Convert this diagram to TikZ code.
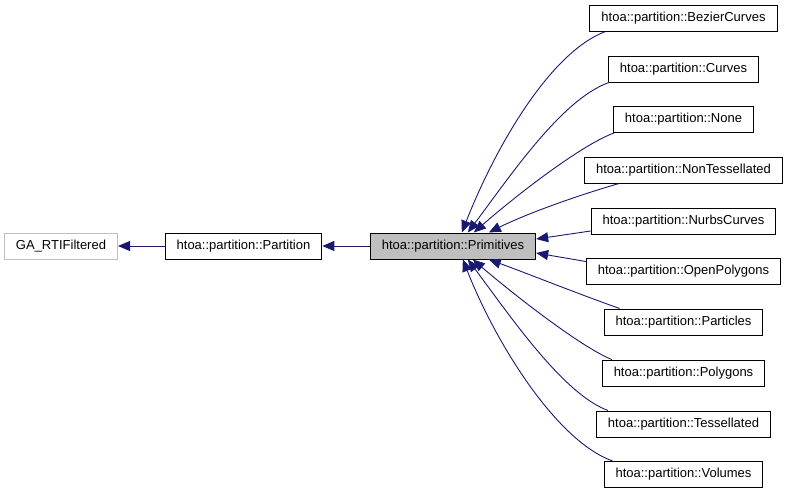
\documentclass[tikz,border=0pt]{standalone}
\usepackage{fontspec}
\setmainfont{Liberation Sans}
\usetikzlibrary{arrows.meta}
\definecolor{edgeblue}{HTML}{191970}
\definecolor{boxgray}{HTML}{BFBFBF}
\tikzset{
  cls/.style={draw=black, line width=1pt, fill=white, minimum height=26pt, inner xsep=11.5pt, inner ysep=0pt, font=\fontsize{13pt}{15pt}\selectfont, text=black},
  extcls/.style={cls, draw=boxgray},
  curcls/.style={cls, fill=boxgray},
  inh/.style={draw=edgeblue, line width=0.9pt, -{Triangle[length=12pt,width=10pt]}, color=edgeblue}
}
\begin{document}
\begin{tikzpicture}[x=1pt,y=1pt]
\useasboundingbox (0,0) rectangle (789,-493);
\node[extcls] (ga) at (61,-246) {GA\_RTIFiltered};
\node[cls] (part) at (243.5,-246) {htoa::partition::Partition};
\node[curcls] (prim) at (453,-246) {htoa::partition::Primitives};

\node[cls] (bz) at (683.5,-18) {htoa::partition::BezierCurves};
\node[cls] (cv) at (683.5,-69) {htoa::partition::Curves};
\node[cls] (nn) at (683.5,-119.5) {htoa::partition::None};
\node[cls] (nt) at (683.5,-170) {htoa::partition::NonTessellated};
\node[cls] (nc) at (683.5,-221) {htoa::partition::NurbsCurves};
\node[cls] (op) at (683.5,-271.5) {htoa::partition::OpenPolygons};
\node[cls] (pa) at (683.5,-322) {htoa::partition::Particles};
\node[cls] (pg) at (683.5,-373) {htoa::partition::Polygons};
\node[cls] (ts) at (683.5,-424) {htoa::partition::Tessellated};
\node[cls] (vo) at (683.5,-474.5) {htoa::partition::Volumes};

\draw[inh] (part) -- (ga);
\draw[inh] (prim) -- (part);

\draw[inh] ([xshift=16pt]bz.south west) .. controls +(-56,-21) and +(33,84) .. ([xshift=92pt]prim.north west);
\draw[inh] ([xshift=1pt]cv.south west) .. controls +(-47,-16.5) and +(42,56) .. ([xshift=98pt]prim.north west);
\draw[inh] ([xshift=1pt]nn.south west) .. controls +(-33,-12) and +(41,36) .. ([xshift=104pt]prim.north west);
\draw[inh] ([xshift=35pt]nt.south west) .. controls +(-45,-13) and +(36,18) .. ([xshift=119pt]prim.north west);
\draw[inh] ([yshift=-10pt]nc.west) -- ([yshift=7pt]prim.east);
\draw[inh] ([yshift=10pt]op.west) -- ([yshift=-7pt]prim.east);
\draw[inh] ([xshift=16pt]pa.north west) .. controls +(-45,16) and +(36,-13) .. ([xshift=119pt]prim.south west);
\draw[inh] ([xshift=10pt]pg.north west) .. controls +(-30,12) and +(42,-36) .. ([xshift=103pt]prim.south west);
\draw[inh] ([xshift=12pt]ts.north west) .. controls +(-45,16.5) and +(42,-56) .. ([xshift=98pt]prim.south west);
\draw[inh] ([xshift=9pt]vo.north west) .. controls +(-56,20) and +(33,-84) .. ([xshift=93pt]prim.south west);
\end{tikzpicture}
\end{document}
